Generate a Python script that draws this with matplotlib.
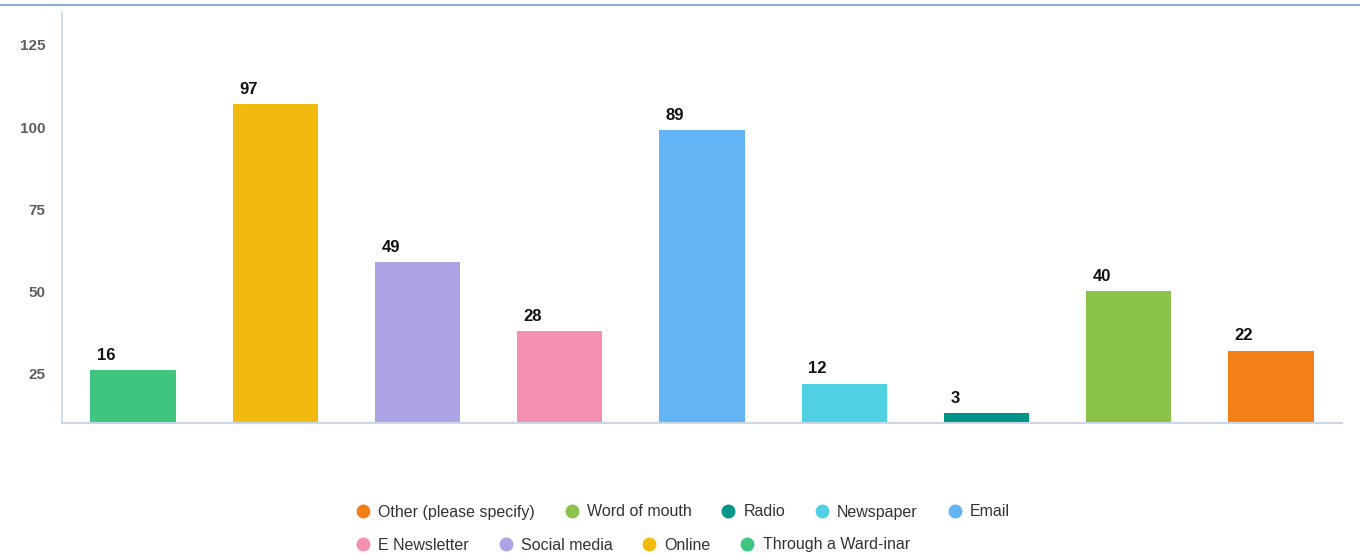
import matplotlib
matplotlib.use('Agg')
from matplotlib import pyplot as plt
from matplotlib.lines import Line2D

plt.rcParams['font.family'] = ['Liberation Sans', 'DejaVu Sans']

categories = ['Through a Ward-inar', 'Online', 'Social media', 'E Newsletter', 'Email',
              'Newspaper', 'Radio', 'Word of mouth', 'Other (please specify)']
values = [16, 97, 49, 28, 89, 12, 3, 40, 22]
colors = ['#40c580', '#f2b90f', '#aba3e3', '#f38fb0', '#62b4f5',
          '#4fd0e3', '#009687', '#8bc24a', '#f57f17']
y_ticks = [25, 50, 75, 100, 125]
BASE = 10

fig = plt.figure(figsize=(13.6, 5.55), dpi=100)
ax = fig.add_axes([62 / 1360, 132 / 555, 1280 / 1360, 411 / 555])

x = list(range(len(categories)))
bars = ax.bar(x, values, width=0.6, bottom=BASE, color=colors)

for b, v in zip(bars, values):
    ax.text(b.get_x() + 0.045, BASE + v + 2.2, str(v), ha='left', va='bottom',
            fontsize=12, fontweight='bold', color='#111111')

ax.set_xlim(-0.5, len(categories) - 0.5)
ax.set_ylim(BASE, 135)
ax.set_yticks(y_ticks)
ax.set_yticklabels([str(t) for t in y_ticks], color='#606060', fontsize=11,
                   fontweight='bold')
ax.tick_params(axis='y', length=0, pad=12)
ax.set_xticks([])
for s in ['top', 'right']:
    ax.spines[s].set_visible(False)
ax.spines['left'].set_color('#c8d6e5')
ax.spines['bottom'].set_color('#c8d6e5')
ax.spines['left'].set_linewidth(1.2)
ax.spines['bottom'].set_linewidth(1.5)

# top rule
fig.add_artist(Line2D([0, 1], [1 - 5 / 555, 1 - 5 / 555], color='#8eaadb', linewidth=1.5))

# legend, reversed order, two rows
order = list(range(len(categories)))[::-1]
def make_handle(i):
    return Line2D([], [], marker='o', linestyle='', markersize=9,
                  markerfacecolor=colors[i], markeredgecolor=colors[i])

rows = [order[:5], order[5:]]
ypos = [1 - 512 / 555, 1 - 545 / 555]
for row, yy in zip(rows, ypos):
    fig.legend([make_handle(i) for i in row], [categories[i] for i in row],
               loc='center left', bbox_to_anchor=(355 / 1360, yy), ncol=len(row),
               frameon=False, fontsize=11.5, handlelength=1.0, handletextpad=0.45,
               columnspacing=1.8, labelcolor='#333333', borderaxespad=0, borderpad=0)

fig.savefig('out.png', dpi=100)
